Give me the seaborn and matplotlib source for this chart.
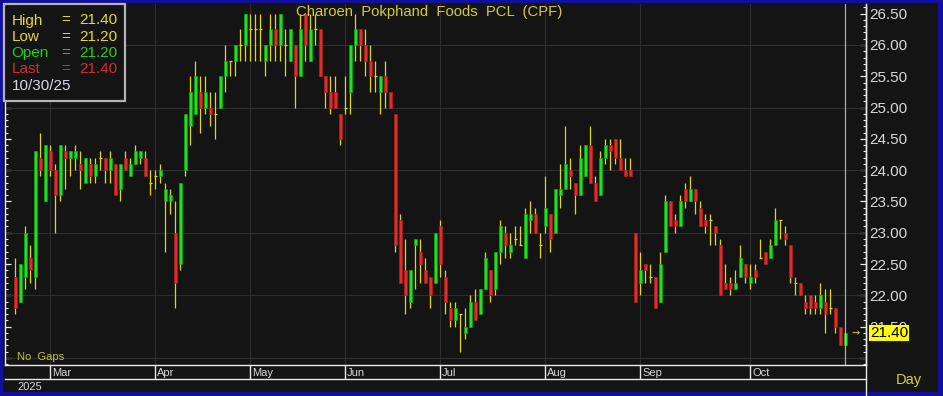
import numpy as np
import pandas as pd
import matplotlib
matplotlib.use("Agg")
import matplotlib.pyplot as plt
import seaborn as sns
from matplotlib.patches import Rectangle
from matplotlib.lines import Line2D
from matplotlib.ticker import FixedLocator, FuncFormatter

# ---------------- data ----------------
opens = [22.30, 21.90, 22.30, 22.60, 22.30, 24.20, 23.50, 24.30, 24.00, 23.60,
         24.30, 24.20, 24.20, 24.10, 23.80, 24.10, 23.90, 24.20, 24.20, 24.00,
         24.10, 23.70, 24.20, 23.90, 24.10, 24.20, 24.20, 23.80, 23.90, 23.90,
         23.50, 23.50, 23.00, 22.50, 24.00, 24.70, 24.90, 25.25, 25.00, 25.00,
         24.90, 25.00, 25.50, 25.75, 25.75, 26.00, 26.00, 26.25, 26.25, 26.25,
         25.75, 26.00, 26.25, 26.00, 26.00, 25.75, 26.00, 25.50, 26.50, 25.75,
         26.25, 26.25, 25.50, 25.25, 25.25, 24.90, 25.00, 25.25, 26.00, 26.25,
         26.00, 25.75, 25.50, 25.25, 25.50, 25.25, 24.90, 23.20, 22.40, 21.90,
         22.80, 22.70, 22.40, 22.30, 22.20, 23.10, 22.30, 21.80, 21.60, 21.70,
         21.40, 21.50, 21.90, 21.70, 22.10, 22.40, 22.10, 22.70, 23.00, 22.70,
         22.90, 22.80, 22.60, 23.20, 23.30, 22.80, 23.10, 23.30, 23.00, 23.60,
         23.70, 24.00, 23.80, 23.60, 23.90, 24.40, 23.80, 23.60, 24.20, 24.40,
         24.50, 24.20, 24.00, 24.00, 23.00, 22.20, 22.50, 22.30, 22.30, 21.90,
         22.70, 23.50, 23.20, 23.10, 23.70, 23.50, 23.70, 23.40, 23.20, 23.20,
         23.10, 22.80, 22.20, 22.20, 22.10, 22.30, 22.50, 22.20, 22.40, 22.60,
         22.70, 22.60, 22.80, 23.20, 23.00, 22.80, 22.20, 22.20, 21.90, 22.00,
         21.90, 21.80, 21.90, 21.80, 21.80, 21.50, 21.20]
highs = [22.60, 22.50, 23.10, 22.80, 24.30, 24.60, 24.40, 24.40, 24.10, 24.40,
         24.40, 24.30, 24.40, 24.30, 24.20, 24.20, 24.20, 24.30, 24.20, 24.30,
         24.10, 24.10, 24.30, 24.20, 24.40, 24.30, 24.30, 24.00, 24.00, 24.10,
         23.80, 23.70, 23.50, 23.80, 24.90, 25.50, 25.75, 25.50, 25.50, 25.25,
         25.25, 25.50, 26.00, 25.75, 26.00, 26.25, 26.50, 26.50, 26.50, 26.50,
         26.00, 26.50, 26.50, 26.50, 26.25, 26.25, 26.00, 26.50, 26.50, 26.50,
         26.50, 26.25, 25.50, 25.50, 25.50, 24.90, 25.50, 26.00, 26.50, 26.25,
         26.25, 26.00, 25.75, 25.50, 25.75, 25.25, 24.90, 23.30, 22.90, 22.40,
         22.90, 22.90, 22.60, 22.30, 23.00, 23.20, 22.40, 21.90, 21.90, 21.70,
         21.80, 22.00, 22.10, 22.10, 22.70, 22.40, 22.70, 23.20, 23.10, 23.00,
         23.10, 23.10, 23.40, 23.50, 23.40, 23.00, 23.90, 23.30, 23.70, 24.10,
         24.70, 24.20, 23.80, 24.40, 24.40, 24.70, 23.90, 24.30, 24.50, 24.50,
         24.50, 24.50, 24.20, 24.20, 23.00, 22.70, 22.50, 22.50, 22.30, 22.70,
         23.60, 23.50, 23.30, 23.60, 23.80, 23.90, 23.70, 23.50, 23.30, 23.30,
         23.10, 22.90, 22.50, 22.30, 22.40, 22.80, 22.50, 22.50, 22.50, 22.90,
         22.70, 22.90, 23.40, 23.20, 23.10, 22.80, 22.30, 22.20, 22.00, 22.00,
         22.00, 22.20, 22.10, 22.10, 21.80, 21.50, 21.40]
lows = [21.70, 21.90, 22.10, 22.20, 22.10, 23.90, 23.50, 23.90, 23.00, 23.50,
        23.70, 23.90, 24.00, 23.70, 23.80, 23.80, 23.80, 24.00, 23.80, 23.80,
        23.60, 23.50, 24.00, 23.90, 24.10, 24.10, 23.90, 23.60, 23.70, 23.80,
        22.70, 23.30, 21.80, 22.40, 23.90, 24.40, 24.90, 24.60, 24.90, 24.70,
        24.50, 25.00, 25.25, 25.50, 25.50, 25.75, 25.75, 25.75, 25.75, 25.75,
        25.50, 25.75, 25.75, 25.75, 25.50, 25.75, 25.00, 25.50, 25.75, 25.75,
        26.00, 25.50, 25.00, 24.90, 25.00, 24.40, 24.90, 24.90, 25.75, 25.75,
        25.50, 25.25, 25.25, 24.90, 25.00, 25.00, 22.70, 22.20, 21.70, 21.80,
        22.10, 22.20, 22.20, 21.80, 22.20, 22.30, 21.70, 21.50, 21.50, 21.10,
        21.30, 21.50, 21.60, 21.70, 22.10, 21.90, 22.00, 22.50, 22.60, 22.60,
        22.80, 22.80, 22.60, 23.00, 23.00, 22.60, 23.00, 22.70, 23.00, 23.40,
        23.70, 23.70, 23.30, 23.60, 23.90, 23.80, 23.50, 23.60, 24.10, 24.00,
        24.10, 24.00, 23.90, 23.90, 21.90, 22.00, 22.20, 22.20, 21.80, 21.90,
        22.70, 23.10, 23.00, 23.10, 23.40, 23.50, 23.30, 23.10, 23.00, 22.80,
        22.80, 22.00, 22.10, 22.00, 22.10, 22.30, 22.20, 22.10, 22.20, 22.60,
        22.50, 22.60, 22.80, 22.90, 22.80, 22.20, 22.00, 22.00, 21.70, 21.70,
        21.70, 21.70, 21.40, 21.70, 21.40, 21.20, 21.20]
closes = [21.80, 22.50, 23.00, 22.40, 24.30, 24.00, 24.40, 24.00, 23.60, 24.40,
          24.20, 24.30, 24.30, 24.00, 24.20, 23.90, 24.10, 24.20, 24.00, 24.20,
          23.60, 24.10, 24.00, 24.10, 24.30, 24.30, 23.90, 23.80, 23.90, 24.00,
          23.70, 23.60, 22.20, 23.80, 24.90, 25.25, 25.50, 25.00, 25.25, 24.90,
          24.90, 25.50, 25.75, 25.75, 26.00, 26.00, 26.50, 26.25, 26.25, 26.25,
          26.00, 26.25, 26.00, 26.50, 26.00, 26.25, 25.50, 26.25, 26.00, 26.25,
          26.25, 25.50, 25.25, 25.00, 25.00, 24.50, 25.00, 26.00, 26.25, 26.00,
          25.75, 25.50, 25.50, 25.50, 25.25, 25.00, 22.80, 22.20, 22.00, 22.40,
          22.90, 22.50, 22.20, 22.00, 23.00, 22.50, 21.90, 21.60, 21.80, 21.70,
          21.50, 21.90, 21.60, 22.10, 22.60, 22.00, 22.70, 23.10, 22.80, 22.80,
          22.90, 22.80, 23.30, 23.30, 23.00, 22.80, 23.40, 22.90, 23.70, 23.70,
          24.10, 23.90, 23.60, 24.20, 24.40, 23.80, 23.50, 24.20, 24.40, 24.30,
          24.20, 24.00, 23.90, 23.90, 21.90, 22.40, 22.40, 22.30, 21.80, 22.50,
          23.50, 23.10, 23.10, 23.50, 23.50, 23.70, 23.50, 23.10, 23.10, 23.20,
          23.00, 22.00, 22.10, 22.10, 22.20, 22.60, 22.30, 22.30, 22.30, 22.60,
          22.50, 22.80, 23.20, 23.20, 22.90, 22.30, 22.20, 22.00, 21.80, 21.80,
          21.80, 22.00, 21.70, 21.80, 21.50, 21.20, 21.40]
month_labels = ["Mar", "Apr", "May", "Jun", "Jul", "Aug", "Sep", "Oct"]
month_start_idx = [7, 28, 47, 66, 85, 106, 125, 147]
year_label = "2025"
price_ticks = [21.0, 21.5, 22.0, 22.5, 23.0, 23.5, 24.0, 24.5, 25.0, 25.5, 26.0, 26.5]
grid_prices = [21.0, 22.0, 23.0, 24.0, 25.0, 26.0]
title_text = "Charoen  Pokphand  Foods  PCL  (CPF)"
last_date = "10/30/25"

# ---------------- style ----------------
W, H = 943, 396
BG = "#141414"
BORDER = "#10109c"
YEL = "#e3d51e"
GRN = "#1ee21e"
RED = "#e42b2b"
TXT = "#d8d8d8"

sns.set_theme(style="dark", rc={"axes.facecolor": BG, "figure.facecolor": BORDER,
                                "axes.grid": False})
plt.rcParams["font.family"] = ["Liberation Sans", "DejaVu Sans"]

fig = plt.figure(figsize=(W / 100, H / 100), dpi=100, facecolor=BORDER)
fig.patches.append(Rectangle((3 / W, 4 / H), 935 / W, 389 / H, transform=fig.transFigure,
                             facecolor=BG, edgecolor="none", zorder=-10))

def fx(px):
    return px / W

def fy(py):
    return 1 - py / H

ax = fig.add_axes([fx(5), fy(365), fx(866) - fx(5), fy(4) - fy(365)])
ax.set_facecolor(BG)
ax.set_zorder(1)

df = pd.DataFrame({"x": np.arange(len(opens)), "open": opens, "high": highs,
                   "low": lows, "close": closes})
up = df[df["close"] > df["open"]]
dn = df[df["close"] < df["open"]]
dj = df[df["close"] == df["open"]]

# grid
for gp in grid_prices:
    ax.axhline(gp, color="#2e2e2e", lw=0.8, zorder=1)
for mi in month_start_idx:
    ax.axvline(mi, color="#2e2e2e", lw=0.8, zorder=1)

# wicks
ax.vlines(df["x"], df["low"], df["high"], color=YEL, lw=0.9, zorder=2)
# bodies
bw = 0.62
ax.bar(up["x"], up["close"] - up["open"], bottom=up["open"], width=bw,
       color=GRN, edgecolor="#12a012", linewidth=0.5, zorder=3)
ax.bar(dn["x"], dn["open"] - dn["close"], bottom=dn["close"], width=bw,
       color=RED, edgecolor="#a81c1c", linewidth=0.5, zorder=3)
ax.hlines(dj["close"], dj["x"] - bw / 2, dj["x"] + bw / 2, color=YEL, lw=0.9, zorder=3)

# last-bar cursor
last_i = len(opens) - 1
ax.axvline(last_i, color="#c8c8c8", lw=0.9, alpha=0.85, zorder=4)

ax.set_xlim(-2.06, 170.14)
ax.set_ylim(20.887, 26.655)

# axes / ticks
ax.spines["top"].set_visible(False)
for s in ["left", "bottom", "right"]:
    ax.spines[s].set_visible(True)
    ax.spines[s].set_color("#e8e8e8")
    ax.spines[s].set_linewidth(1.0)
ax.set_xticks([])
ax.yaxis.set_major_locator(FixedLocator(price_ticks))
ax.yaxis.set_minor_locator(FixedLocator([round(20.9 + 0.1 * k, 1) for k in range(58)]))
ax.yaxis.set_major_formatter(FuncFormatter(lambda v, p: "" if v < 21.25 else f"{v:.2f}"))
ax.tick_params(axis="y", which="both", left=True, right=True, labelleft=False,
               labelright=True, direction="in", colors="#e8e8e8")
ax.tick_params(axis="y", which="major", length=4.5, width=0.9, pad=2,
               labelsize=11, labelcolor=TXT)
ax.tick_params(axis="y", which="minor", length=2.2, width=0.8)

# date band
axd = fig.add_axes([fx(5), fy(379), fx(866) - fx(5), fy(365) - fy(379)])
axd.set_facecolor("none")
axd.set_zorder(1)
axd.set_xlim(ax.get_xlim())
axd.set_ylim(0, 1)
axd.set_xticks([])
axd.set_yticks([])
for s in ["top", "left", "right"]:
    axd.spines[s].set_visible(False)
axd.spines["bottom"].set_visible(True)
axd.spines["bottom"].set_color("#e8e8e8")
axd.spines["bottom"].set_linewidth(1.0)
axd.vlines(month_start_idx, 0, 1, color="#e8e8e8", lw=1.0)
for mi, lab in zip(month_start_idx, month_labels):
    axd.text(mi + 0.35, 0.42, lab, ha="left", va="center", fontsize=8, color=TXT)

fig.text(fx(17), fy(387), year_label, ha="left", va="center", fontsize=8, color=TXT)
fig.text(fx(896), fy(380), "Day", ha="left", va="center", fontsize=10.5, color="#d8d03a")

# right axis line through the whole height
fig.lines.append(Line2D([fx(866), fx(866)], [0, fy(4)], transform=fig.transFigure,
                        color="#e8e8e8", lw=1.0))

# title
fig.text(fx(296), fy(12), title_text, ha="left", va="center", fontsize=10.7,
         color="#d4c83c", zorder=6)

# No Gaps
fig.text(fx(17), fy(357.5), "No  Gaps", ha="left", va="center", fontsize=8,
         color="#c4c43a", zorder=6)

# last price tag
ax.text(1.0045, closes[-1], f"{closes[-1]:.2f}", transform=ax.get_yaxis_transform(),
        ha="left", va="center", fontsize=11, color="black", zorder=10, clip_on=False,
        bbox=dict(boxstyle="square,pad=0.08", facecolor="#ffff00", edgecolor="none"))
fig.text(fx(852), fy(333.5), "→", ha="left", va="center", fontsize=7,
         color=YEL, family="DejaVu Sans", zorder=6)

# info box
fig.patches.append(Rectangle((fx(3.5), fy(100.5)), fx(125) - fx(3.5), fy(3.5) - fy(100.5),
                             transform=fig.transFigure, facecolor=BG,
                             edgecolor="#b4b4b4", lw=1.6, zorder=5))
rows = [("High", f"{highs[-1]:.2f}", "#e2d83a"),
        ("Low", f"{lows[-1]:.2f}", "#e2d83a"),
        ("Open", f"{opens[-1]:.2f}", "#22cc22"),
        ("Last", f"{closes[-1]:.2f}", "#d42e2e")]
for k, (lab, val, col) in enumerate(rows):
    yy = 20.5 + 16.2 * k
    fig.text(fx(11.5), fy(yy), lab, ha="left", va="center", fontsize=11, color=col, zorder=6)
    fig.text(fx(61.5), fy(yy), "=", ha="left", va="center", fontsize=11, color=col, zorder=6)
    fig.text(fx(79), fy(yy), val, ha="left", va="center", fontsize=11, color=col, zorder=6)
fig.text(fx(11.5), fy(85.5), last_date, ha="left", va="center", fontsize=11,
         color="#d8d8e6", zorder=6)

fig.savefig("out.png", dpi=100, facecolor=BORDER)
